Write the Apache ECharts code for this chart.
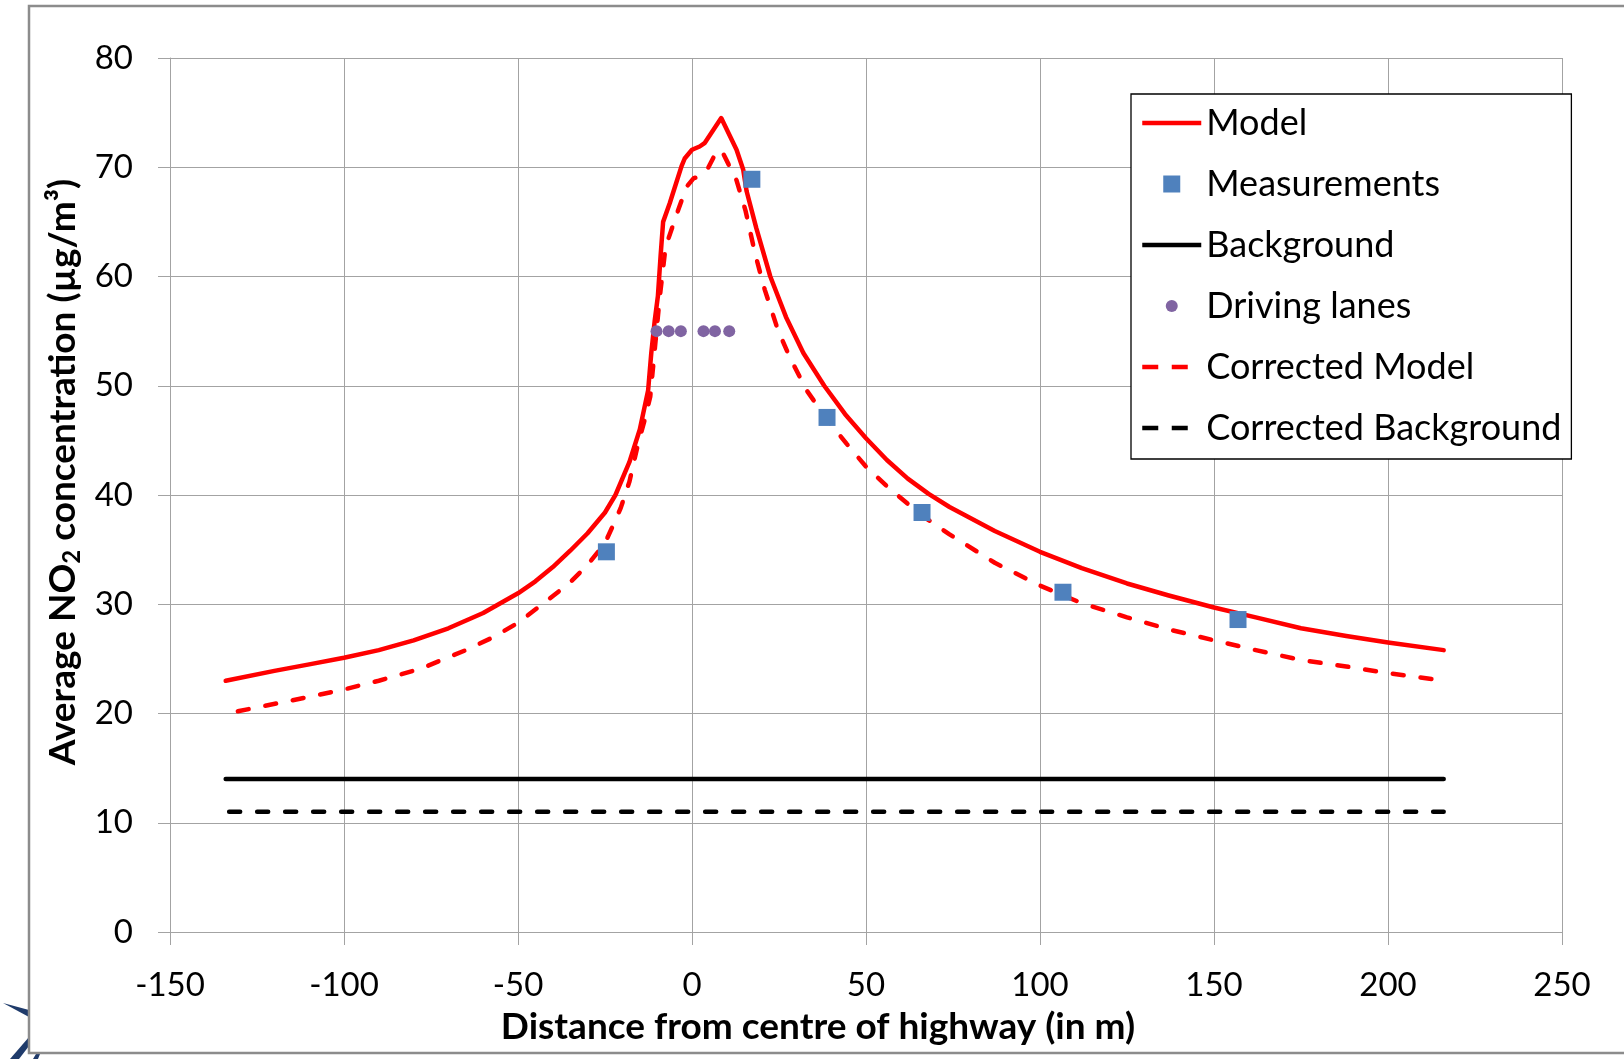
<!DOCTYPE html>
<html>
<head>
<meta charset="utf-8">
<script src="https://cdn.jsdelivr.net/npm/echarts@6/dist/echarts.min.js"></script>
<style>
html,body{margin:0;padding:0;background:#fff;}
#chart{width:1624px;height:1059px;}
</style>
</head>
<body>
<div id="chart"></div>
<script>
// ---- data ----
const seriesNames = ['Model', 'Measurements', 'Background', 'Driving lanes', 'Corrected Model', 'Corrected Background'];

const modelData = [
  [-134, 23.0], [-120, 23.9], [-110, 24.5], [-100, 25.1], [-90, 25.8], [-80, 26.7], [-70, 27.8],
  [-60, 29.2], [-50, 31.0], [-45, 32.1], [-40, 33.4], [-35, 34.9], [-30, 36.5], [-25, 38.4],
  [-22, 40.0], [-18, 43.0], [-15, 46.0], [-12.6, 49.6], [-11.7, 53.0], [-10.7, 56.0], [-9.8, 58.2],
  [-9, 62.0], [-8.3, 65.0], [-6.4, 66.7], [-4.5, 68.6], [-3.0, 70.1], [-2.1, 70.8], [0, 71.6],
  [2.2, 71.9], [3.6, 72.2], [8.4, 74.5], [12.8, 71.6], [14.7, 69.8], [15.7, 67.8], [18.5, 64.4],
  [22.5, 60.0], [27, 56.3], [32, 53.0], [38, 50.0], [44, 47.4], [50, 45.2], [56, 43.2], [62, 41.5],
  [68, 40.1], [74, 38.9], [87, 36.7], [100, 34.8], [112, 33.3], [125, 31.9], [137, 30.8],
  [150, 29.7], [162, 28.8], [175, 27.8], [188, 27.1], [200, 26.5], [216, 25.8]
];

const correctedModelData = [
  [-130.5, 20.2], [-115, 21.2], [-100, 22.2], [-90, 23.0], [-78, 24.1], [-65, 25.8], [-57, 27.0],
  [-50, 28.3], [-41, 30.5], [-35, 32.0], [-30, 33.6], [-25, 35.6], [-23, 37.0], [-20.5, 38.8],
  [-18, 41.2], [-15.7, 44.4], [-13.5, 47.0], [-12, 49.0], [-10.2, 55.0], [-9.3, 58.0], [-7.6, 62.7],
  [-4.5, 65.6], [-1.6, 68.2], [0.5, 69.0], [1.7, 69.1], [4.4, 69.8], [6.5, 71.1], [8.4, 71.6],
  [10.3, 70.4], [12.8, 68.8], [15.4, 66.0], [18.2, 62.0], [20.9, 58.8], [24.7, 55.1], [28.1, 52.6],
  [32.9, 49.6], [38.6, 47.0], [44.4, 44.7], [50, 42.6], [56, 40.8], [62, 39.2], [68, 37.7],
  [74, 36.4], [87, 33.8], [100, 31.7], [112, 30.1], [125, 28.8], [137, 27.7], [150, 26.7],
  [162, 25.8], [175, 24.9], [188, 24.3], [200, 23.7], [216, 23.0]
];

const measurementData = [
  [-24.6, 34.8], [17.2, 68.9], [38.8, 47.1], [66.1, 38.4], [106.6, 31.1], [156.9, 28.6]
];

const backgroundData = [[-134, 14.0], [216, 14.0]];
const correctedBackgroundData = [[-133, 11.0], [216, 11.0]];

const drivingLaneX = [-10.2, -6.7, -3.2, 3.3, 6.6, 10.7];
const drivingLaneY = [55, 55, 55, 55, 55, 55];

const xAxisTitle = 'Distance from centre of highway (in m)';
const yAxisTitleParts = ['Average NO', '2', ' concentration (µg/m³)'];

// ---- chart ----
const FONT = 'Lato, "Open Sans", "Liberation Sans", sans-serif';
const GRID_COLOR = '#a3a3a3';
const DASH = [11, 17];
const LEGEND_DASH = [16, 13.5];
const LW = 4.5;

const squareIcon = 'path://M0,0h10v10h-10z';
const circleIcon = 'path://M0,0L0,0M17,17L17,17M14.5,8.5A6,6,0,1,1,2.5,8.5A6,6,0,1,1,14.5,8.5Z';
const hiddenSymbol = {color: 'rgba(0,0,0,0)', opacity: 0, borderWidth: 0};

const chart = echarts.init(document.getElementById('chart'), null, {renderer: 'canvas'});

const option = {
  animation: false,
  backgroundColor: '#ffffff',
  grid: {
    left: 170, right: 62, top: 58, bottom: 127,
    containLabel: false,
    outerBoundsMode: 'none'
  },
  xAxis: {
    type: 'value',
    min: -150, max: 250, interval: 50,
    axisLine: {show: true, onZero: false, lineStyle: {color: GRID_COLOR, width: 1}},
    axisTick: {show: true, length: 13, inside: false, lineStyle: {color: GRID_COLOR, width: 1}},
    axisLabel: {show: true, margin: 37, fontSize: 33, fontFamily: FONT, color: '#000'},
    splitLine: {show: true, lineStyle: {color: GRID_COLOR, width: 1}}
  },
  yAxis: {
    type: 'value',
    min: 0, max: 80, interval: 10,
    axisLine: {show: true, onZero: false, lineStyle: {color: GRID_COLOR, width: 1}},
    axisTick: {show: true, length: 12, inside: false, lineStyle: {color: GRID_COLOR, width: 1}},
    axisLabel: {show: true, margin: 37, fontSize: 33, fontFamily: FONT, color: '#000'},
    splitLine: {show: true, lineStyle: {color: GRID_COLOR, width: 1}}
  },
  legend: {
    show: true,
    orient: 'vertical',
    left: 1131, top: 94,
    padding: [11, 10, 13, 9],
    backgroundColor: '#fff',
    borderColor: '#000',
    borderWidth: 1.3,
    itemWidth: 59,
    itemHeight: 17,
    itemGap: 25,
    selectedMode: false,
    lineStyle: {width: LW},
    textStyle: {fontFamily: FONT, fontSize: 36, color: '#000', lineHeight: 36},
    data: [
      {name: seriesNames[0], itemStyle: hiddenSymbol, lineStyle: {width: LW, color: '#ff0000', type: 'solid', cap: 'butt'}},
      {name: seriesNames[1], icon: squareIcon},
      {name: seriesNames[2], itemStyle: hiddenSymbol, lineStyle: {width: LW, color: '#000000', type: 'solid', cap: 'butt'}},
      {name: seriesNames[3], icon: circleIcon},
      {name: seriesNames[4], itemStyle: hiddenSymbol, lineStyle: {width: LW, color: '#ff0000', type: LEGEND_DASH, cap: 'butt'}},
      {name: seriesNames[5], itemStyle: hiddenSymbol, lineStyle: {width: LW, color: '#000000', type: LEGEND_DASH, cap: 'butt'}}
    ]
  },
  graphic: [
    {
      type: 'rect', z: -10, silent: true,
      shape: {x: 29, y: 6, width: 1640, height: 1047},
      style: {fill: 'none', stroke: '#8c8c8c', lineWidth: 2.5}
    },
    {
      type: 'polygon', z: -20, silent: true,
      shape: {points: [[3, 1003], [29, 1010], [29, 1017]]},
      style: {fill: '#1f3b6b'}
    },
    {
      type: 'polygon', z: -20, silent: true,
      shape: {points: [[10, 1059], [29, 1037], [29, 1046], [19, 1059]]},
      style: {fill: '#1f3b6b'}
    },
    {
      type: 'polygon', z: -20, silent: true,
      shape: {points: [[33, 1059], [36, 1054], [40, 1054], [38, 1059]]},
      style: {fill: '#1f3b6b'}
    },
    {
      type: 'text', silent: true,
      x: 818, y: 1027,
      style: {
        text: xAxisTitle,
        fontFamily: FONT, fontSize: 37, fontWeight: 'bold', fill: '#000',
        align: 'center', verticalAlign: 'middle'
      }
    },
    {
      type: 'text', silent: true,
      x: 63, y: 472,
      rotation: Math.PI / 2,
      style: {
        text: '{m|' + yAxisTitleParts[0] + '}{s|' + yAxisTitleParts[1] + '}{m|' + yAxisTitleParts[2] + '}',
        align: 'center', verticalAlign: 'middle',
        fontFamily: FONT, fontWeight: 'bold', fill: '#000',
        rich: {
          m: {fontFamily: FONT, fontSize: 37, fontWeight: 'bold', fill: '#000', lineHeight: 42, verticalAlign: 'middle'},
          s: {fontFamily: FONT, fontSize: 24, fontWeight: 'bold', fill: '#000', lineHeight: 25, verticalAlign: 'bottom'}
        }
      }
    }
  ],
  series: [
    {
      name: seriesNames[0], type: 'line', data: modelData,
      symbol: 'none', showSymbol: false, smooth: false, z: 2,
      lineStyle: {color: '#ff0000', width: LW, cap: 'round', join: 'round'},
      itemStyle: {color: '#ff0000'}
    },
    {
      name: seriesNames[1], type: 'scatter', data: measurementData,
      symbol: 'rect', symbolSize: 17, z: 4,
      itemStyle: {color: '#4f81bd', opacity: 1}
    },
    {
      name: seriesNames[2], type: 'line', data: backgroundData,
      symbol: 'none', showSymbol: false, z: 2,
      lineStyle: {color: '#000000', width: LW, cap: 'round'},
      itemStyle: {color: '#000000'}
    },
    {
      name: seriesNames[3], type: 'scatter',
      data: drivingLaneX.map((x, i) => [x, drivingLaneY[i]]),
      symbol: 'circle', symbolSize: 12, z: 4,
      itemStyle: {color: '#8064a2', opacity: 1}
    },
    {
      name: seriesNames[4], type: 'line', data: correctedModelData,
      symbol: 'none', showSymbol: false, smooth: false, z: 2,
      lineStyle: {color: '#ff0000', width: LW, type: DASH, cap: 'round', join: 'round'},
      itemStyle: {color: '#ff0000'}
    },
    {
      name: seriesNames[5], type: 'line', data: correctedBackgroundData,
      symbol: 'none', showSymbol: false, z: 2,
      lineStyle: {color: '#000000', width: LW, type: DASH, cap: 'round'},
      itemStyle: {color: '#000000'}
    }
  ]
};

chart.setOption(option);
</script>
</body>
</html>
